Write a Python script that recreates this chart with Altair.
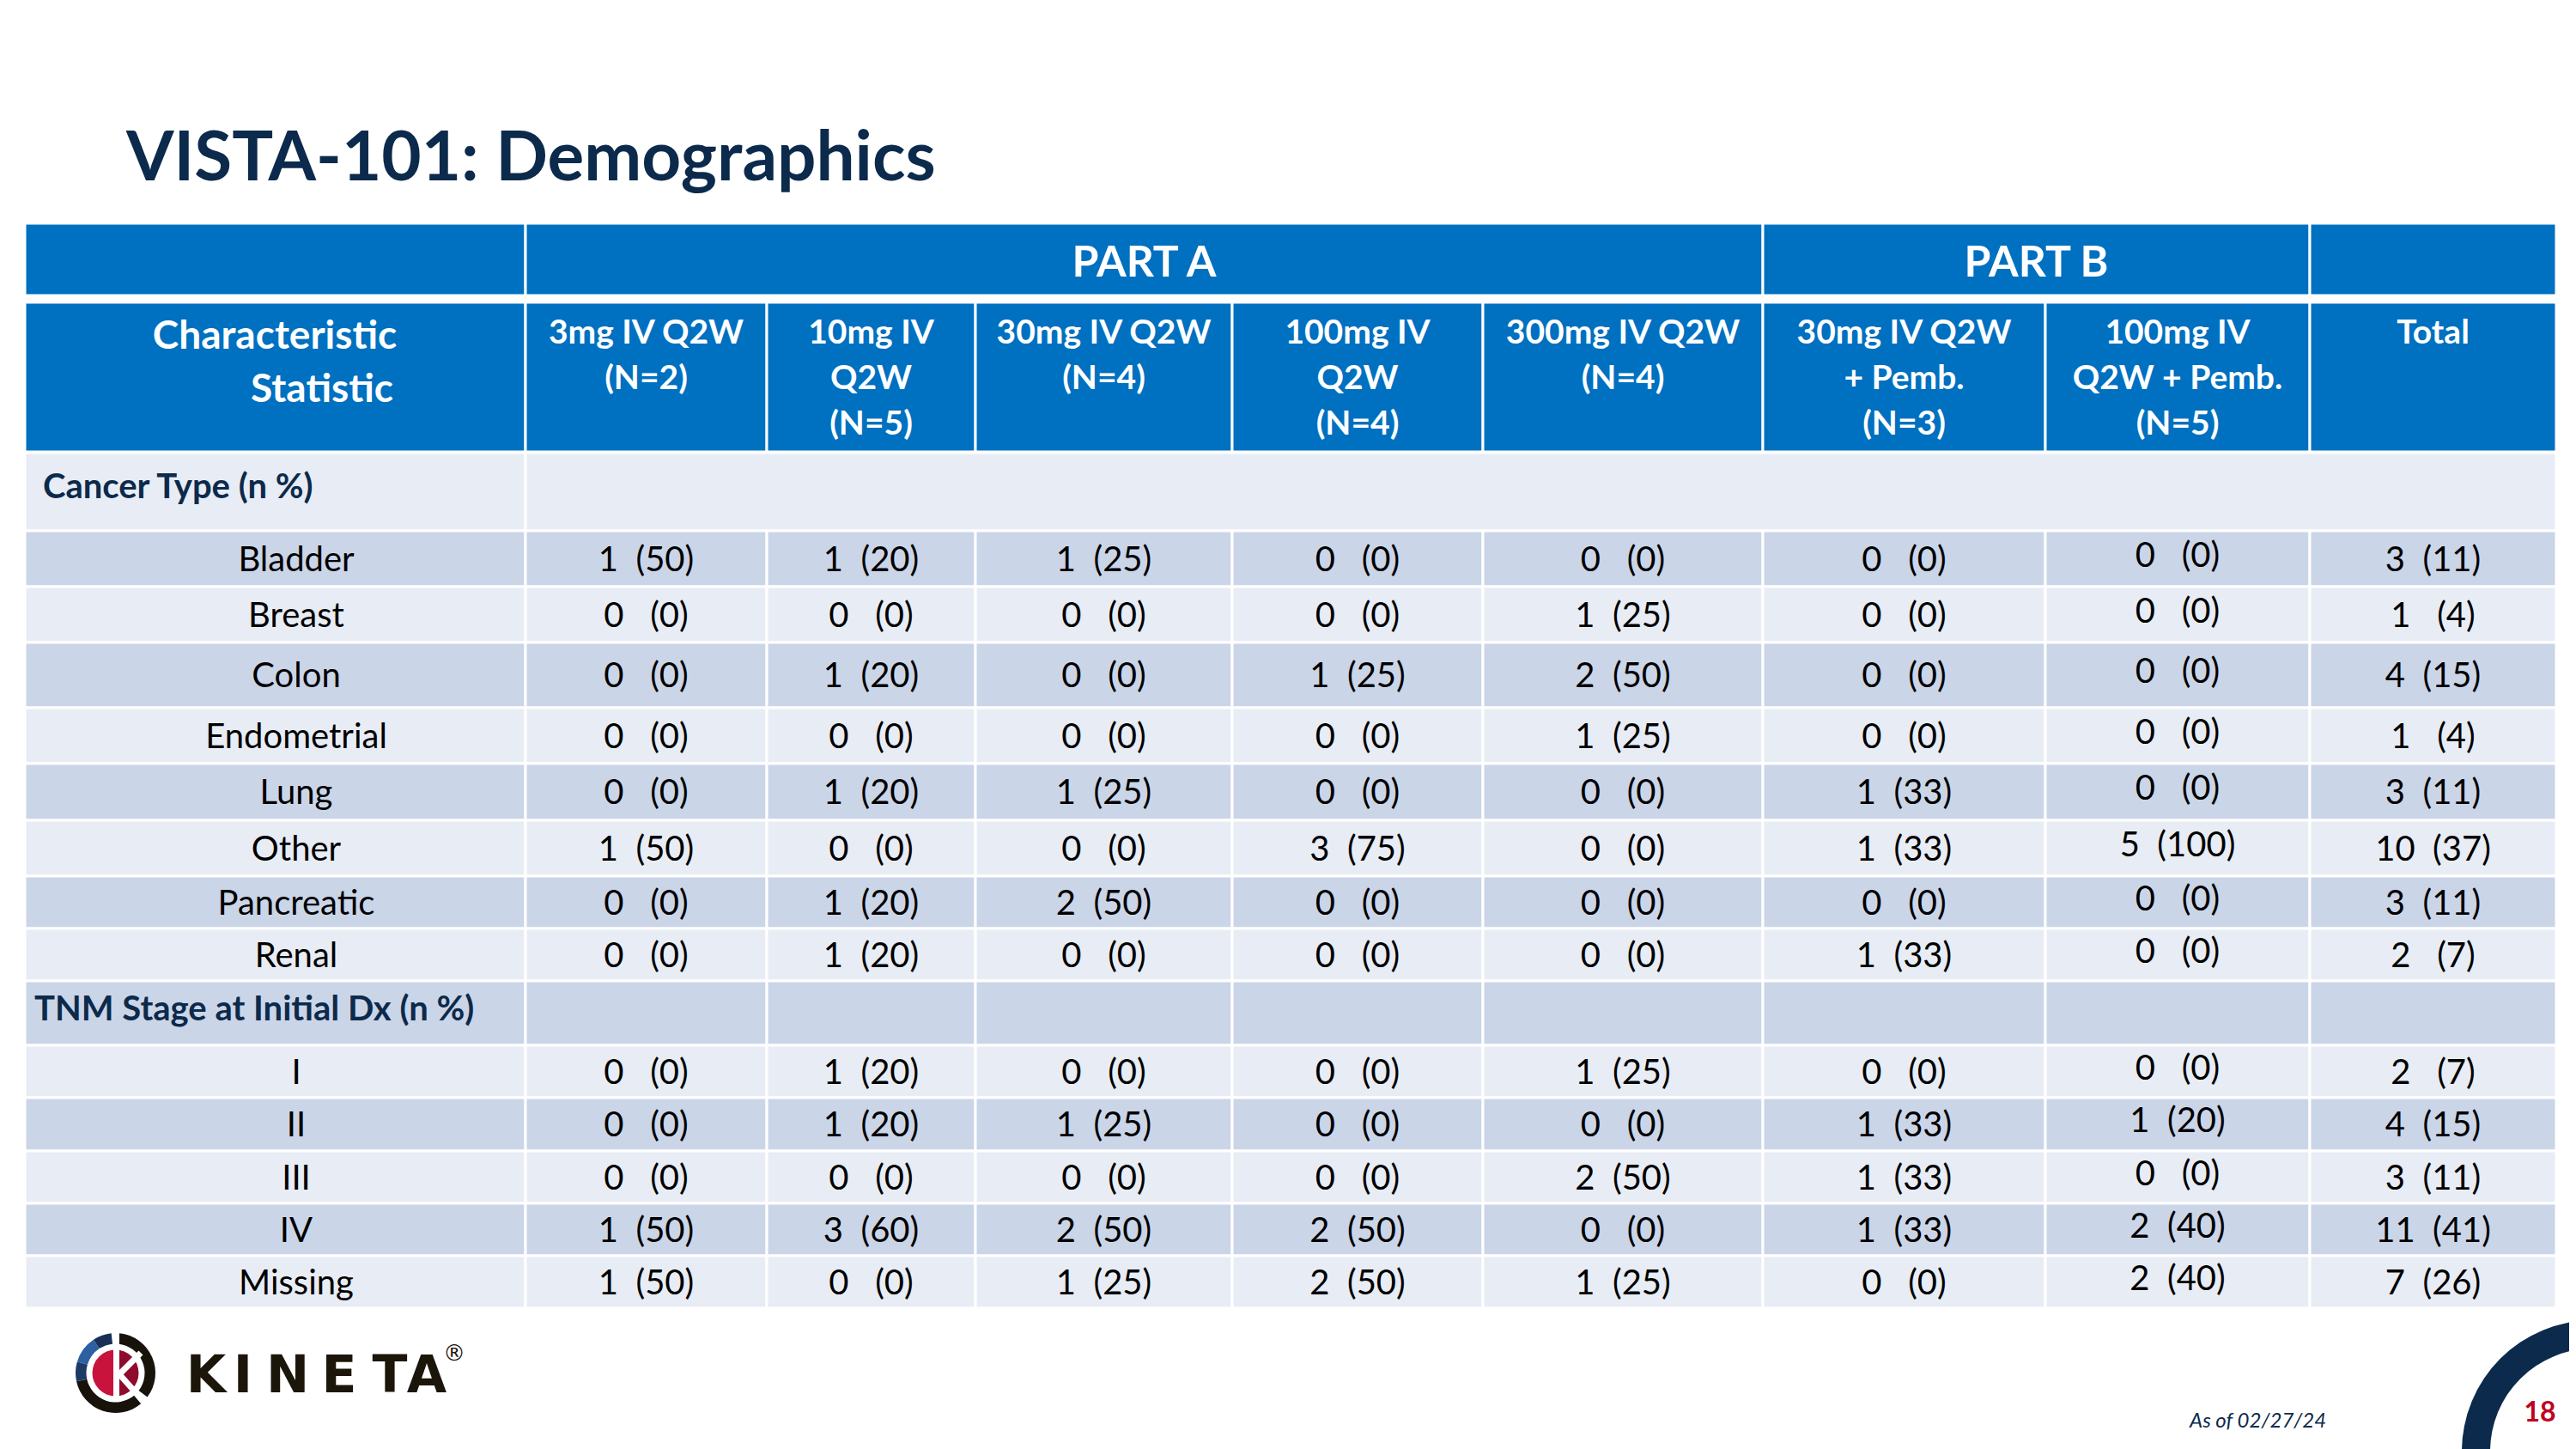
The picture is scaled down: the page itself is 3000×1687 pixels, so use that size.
import altair as alt
import pandas as pd

# ---------------- data ----------------
title_text = "VISTA-101: Demographics"
part_labels = ["PART A", "PART B"]
stub_header = ["Characteristic", "Statistic"]
column_labels = [
    "3mg IV Q2W\n(N=2)",
    "10mg IV\nQ2W\n(N=5)",
    "30mg IV Q2W\n(N=4)",
    "100mg IV\nQ2W\n(N=4)",
    "300mg IV Q2W\n(N=4)",
    "30mg IV Q2W\n+ Pemb.\n(N=3)",
    "100mg IV\nQ2W + Pemb.\n(N=5)",
    "Total",
]
section_labels = ["Cancer Type (n %)", "TNM Stage at Initial Dx (n %)"]
cancer_types = ["Bladder", "Breast", "Colon", "Endometrial", "Lung", "Other", "Pancreatic", "Renal"]
cancer_n = [
    [1, 1, 1, 0, 0, 0, 0, 3],
    [0, 0, 0, 0, 1, 0, 0, 1],
    [0, 1, 0, 1, 2, 0, 0, 4],
    [0, 0, 0, 0, 1, 0, 0, 1],
    [0, 1, 1, 0, 0, 1, 0, 3],
    [1, 0, 0, 3, 0, 1, 5, 10],
    [0, 1, 2, 0, 0, 0, 0, 3],
    [0, 1, 0, 0, 0, 1, 0, 2],
]
cancer_pct = [
    [50, 20, 25, 0, 0, 0, 0, 11],
    [0, 0, 0, 0, 25, 0, 0, 4],
    [0, 20, 0, 25, 50, 0, 0, 15],
    [0, 0, 0, 0, 25, 0, 0, 4],
    [0, 20, 25, 0, 0, 33, 0, 11],
    [50, 0, 0, 75, 0, 33, 100, 37],
    [0, 20, 50, 0, 0, 0, 0, 11],
    [0, 20, 0, 0, 0, 33, 0, 7],
]
stages = ["I", "II", "III", "IV", "Missing"]
stage_n = [
    [0, 1, 0, 0, 1, 0, 0, 2],
    [0, 1, 1, 0, 0, 1, 1, 4],
    [0, 0, 0, 0, 2, 1, 0, 3],
    [1, 3, 2, 2, 0, 1, 2, 11],
    [1, 0, 1, 2, 1, 0, 2, 7],
]
stage_pct = [
    [0, 20, 0, 0, 25, 0, 0, 7],
    [0, 20, 25, 0, 0, 33, 20, 15],
    [0, 0, 0, 0, 50, 33, 0, 11],
    [50, 60, 50, 50, 0, 33, 40, 41],
    [50, 0, 25, 50, 25, 0, 40, 26],
]
footnote = "As of 02/27/24"
page_number = "18"
logo_letters = ["K", "I", "N", "E", "T", "A"]

# ---------------- layout (slide pixel positions) ----------------
OFF = 8
W, H = 2984, 1679
COL = [29, 612, 893, 1136, 1435, 1727, 2053, 2382, 2690, 2977]
HDR1 = (260, 344)
HDR2 = (352, 526)
BODY = [527, 618, 683, 748, 824, 889, 955, 1020, 1081, 1142, 1217, 1278, 1340, 1401, 1462, 1523]

BLUE = "#0070C0"
LIGHT = "#E8ECF4"
DARK = "#CBD5E8"
NAVY = "#0C2A4B"
FONT = "Lato"
BODY_SIZE = 40

XS = alt.Scale(domain=[OFF, OFF + W], range=[0, W], zero=False, nice=False)
YS = alt.Scale(domain=[OFF, OFF + H], range=[0, H], zero=False, nice=False)


def pos(df):
    return dict(x=alt.X("x:Q", scale=XS, axis=None), y=alt.Y("y:Q", scale=YS, axis=None))


def text_layer(rows, font=FONT, **kw):
    df = pd.DataFrame(rows)
    return alt.Chart(df).mark_text(font=font, lineBreak="\n", baseline="alphabetic", **kw).encode(
        **pos(df), text=alt.Text("t:N")
    )


# ---- table cells ----
rects = []


def cell(c0, c1, y0, y1, fill):
    rects.append(dict(x1=COL[c0], x2=COL[c1], y1=y0, y2=y1, fill=fill))


for c0, c1 in [(0, 1), (1, 6), (6, 8), (8, 9)]:
    cell(c0, c1, HDR1[0], HDR1[1], BLUE)
for c in range(9):
    cell(c, c + 1, HDR2[0], HDR2[1], BLUE)
for r in range(15):
    fill = LIGHT if r % 2 == 0 else DARK
    y0, y1 = BODY[r], BODY[r + 1]
    if r == 0:
        cell(0, 1, y0, y1, fill)
        cell(1, 9, y0, y1, fill)
    else:
        for c in range(9):
            cell(c, c + 1, y0, y1, fill)

rect_df = pd.DataFrame(rects)
table = alt.Chart(rect_df).mark_rect(stroke="white", strokeWidth=3).encode(
    x=alt.X("x1:Q", scale=XS, axis=None),
    x2="x2:Q",
    y=alt.Y("y1:Q", scale=YS, axis=None),
    y2="y2:Q",
    color=alt.Color("fill:N", scale=None),
)


def center(c):
    return (COL[c] + COL[c + 1]) / 2


def fmt(n, p):
    gap = "\u00a0" * (3 if p < 10 else 2)
    return f"{n}{gap}({p})"


# body text
label_rows, value_rows, section_rows = [], [], []
body_groups = [(cancer_types, cancer_n, cancer_pct, 1), (stages, stage_n, stage_pct, 10)]
CAP_HALF = 14
for labels, ns, ps, start in body_groups:
    for i, lab in enumerate(labels):
        r = start + i
        yc = (BODY[r] + BODY[r + 1]) / 2 + CAP_HALF
        label_rows.append(dict(x=345, y=yc, t=lab))
        for c in range(8):
            dy = -5 if c == 6 else 0
            value_rows.append(dict(x=center(c + 1), y=yc + dy, t=fmt(ns[i][c], ps[i][c])))
section_rows.append(dict(x=50, y=580, t=section_labels[0]))
section_rows.append(dict(x=40, y=1188, t=section_labels[1]))

layers = [table]
layers.append(text_layer([dict(x=147, y=210, t=title_text)], align="left", fontSize=80,
                         fontWeight="bold", color=NAVY))
layers.append(text_layer([dict(x=(COL[1] + COL[6]) / 2, y=322, t=part_labels[0]),
                          dict(x=(COL[6] + COL[8]) / 2, y=322, t=part_labels[1])],
                         align="center", fontSize=50, fontWeight="bold", color="white"))
layers.append(text_layer([dict(x=320, y=406, t=stub_header[0]), dict(x=375, y=468, t=stub_header[1])],
                         align="center", fontSize=46, fontWeight="bold", color="white"))
layers.append(text_layer([dict(x=center(c + 1), y=400, t=lab) for c, lab in enumerate(column_labels)],
                         align="center", fontSize=39, fontWeight="bold", color="white", lineHeight=53))
layers.append(text_layer(label_rows, align="center", fontSize=BODY_SIZE, color="black"))
layers.append(text_layer(value_rows, align="center", fontSize=BODY_SIZE, color="black"))
layers.append(text_layer(section_rows, align="left", fontSize=40, fontWeight="bold", color=NAVY))


# ---- logo ----
def arc(cx, cy, r_in, r_out, a0, a1, color):
    df = pd.DataFrame({"x": [cx], "y": [cy]})
    return alt.Chart(df).mark_arc(theta=a0, theta2=a1, radius=r_out, radius2=r_in, color=color).encode(**pos(df))


LX, LY = 134.5, 1598.5
layers += [
    arc(LX, LY, 34, 46.5, 0.1, 2.22, "#17130b"),
    arc(LX, LY, 34, 46.5, 2.45, 4.5, "#17130b"),
    arc(LX, LY, 34, 46.5, 4.5, 5.0, "#1d3a66"),
    arc(LX, LY, 34, 46.5, 5.0, 5.7, "#2d5fa3"),
    arc(LX, LY, 34, 46.5, 5.7, 6.18, "#1a2f55"),
    arc(LX, LY, 0, 27, 3.1416, 6.2832, "#c8143c"),
    arc(LX, LY, 0, 27, 0, 3.1416, "#8e0b2e"),
]
stem = pd.DataFrame({"x1": [132], "x2": [139], "y1": [1548], "y2": [1628]})
layers.append(alt.Chart(stem).mark_rect(color="white").encode(
    x=alt.X("x1:Q", scale=XS, axis=None), x2="x2:Q",
    y=alt.Y("y1:Q", scale=YS, axis=None), y2="y2:Q"))
arms = pd.DataFrame({"x": [139, 139], "y": [1600, 1600], "x2": [164, 173], "y2": [1575, 1638]})
layers.append(alt.Chart(arms).mark_rule(color="white", strokeWidth=7).encode(
    x=alt.X("x:Q", scale=XS, axis=None), x2="x2:Q",
    y=alt.Y("y:Q", scale=YS, axis=None), y2="y2:Q"))
letter_x = [240, 283, 335, 395, 454, 497]
layers.append(text_layer([dict(x=lx, y=1621, t=lt) for lx, lt in zip(letter_x, logo_letters)],
                         font="DejaVu Sans", fontSize=60, fontWeight="bold", color="#1b1609", align="center"))
layers.append(text_layer([dict(x=529, y=1584, t="\u00ae")],
                         font="DejaVu Sans", fontSize=26, color="#1b1609", align="center"))

# ---- footer ----
layers.append(text_layer([dict(x=2550, y=1662, t=footnote)], align="left", fontSize=24,
                         fontStyle="italic", color=NAVY))
layers.append(arc(3020, 1690, 120, 153, 0, 6.2832, NAVY))
layers.append(text_layer([dict(x=2958, y=1655, t=page_number)], align="center", fontSize=32,
                         fontWeight="bold", color="#C00020"))

chart = alt.layer(*layers).properties(
    width=W, height=H, padding=0, autosize=alt.AutoSizeParams(type="none"), background="white"
).configure_view(strokeWidth=0)

chart.save("out.html", embed_options={"renderer": "svg", "actions": False})
